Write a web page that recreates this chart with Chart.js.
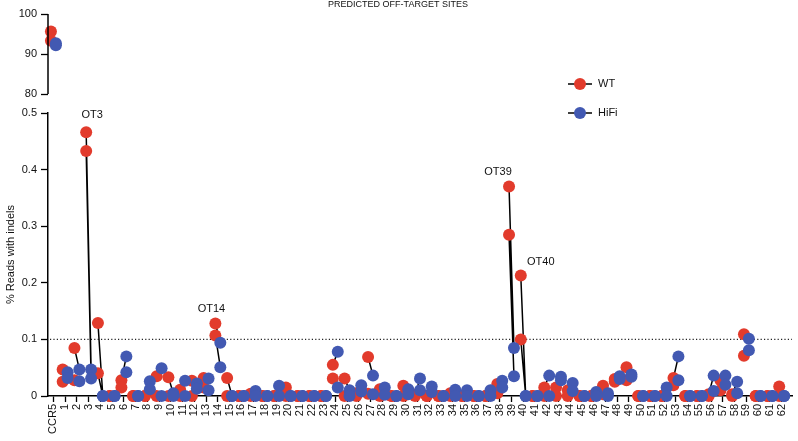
<!DOCTYPE html>
<html>
<head>
<meta charset="utf-8">
<script src="https://cdn.jsdelivr.net/npm/chart.js@4.4.1/dist/chart.umd.min.js"></script>
<style>
  html, body { margin: 0; padding: 0; background: #fff; }
  #wrap { width: 798px; height: 441px; }
</style>
</head>
<body>
<div id="wrap"><canvas id="chart" width="798" height="441"></canvas></div>
<script>
// off-target sites along the x axis
const sites = ['CCR5',
  '1', '2', '3', '4', '5', '6', '7', '8', '9', '10', '11', '12', '13', '14', '15', '16', '17', '18', '19', '20',
  '21', '22', '23', '24', '25', '26', '27', '28', '29', '30', '31', '32', '33', '34', '35', '36', '37', '38', '39', '40',
  '41', '42', '43', '44', '45', '46', '47', '48', '49', '50', '51', '52', '53', '54', '55', '56', '57', '58', '59', '60',
  '61', '62'];

// % reads with indels, two replicates per enzyme (index 0 = CCR5)
const wtRep1 = [
  95.6, 0.047, 0.085, 0.466, 0.129, 0, 0.028, 0, 0, 0.035,
  0.033, 0.011, 0.027, 0.032, 0.128, 0.032, 0, 0.004, 0, 0,
  0.015, 0, 0, 0, 0.055, 0.031, 0.005, 0.069, 0.012, 0,
  0.018, 0.002, 0, 0, 0.005, 0, 0, 0, 0.021, 0.370,
  0.213, 0, 0.015, 0.015, 0.010, 0, 0, 0.018, 0.025, 0.051,
  0, 0, 0, 0.032, 0, 0, 0.003, 0.028, 0.003, 0.109,
  0, 0, 0.017];
const wtRep2 = [
  93.3, 0.025, 0.028, 0.433, 0.040, 0, 0.015, 0, 0, 0,
  0, 0, 0, 0.015, 0.107, 0, 0, 0, 0, 0,
  0, 0, 0, 0, 0.031, 0, 0, 0.004, 0, 0,
  0, 0, 0, 0, 0, 0, 0, 0, 0.005, 0.285,
  0.100, 0, 0, 0, 0, 0, 0, 0.003, 0.030, 0.028,
  0, 0, 0, 0.019, 0, 0, 0, 0.010, 0, 0.071,
  0, 0, 0];
const hifiRep1 = [
  92.7, 0.042, 0.047, 0.047, 0, 0, 0.070, 0, 0.026, 0.049,
  0.005, 0.027, 0.022, 0.031, 0.094, 0, 0, 0.009, 0, 0.018,
  0, 0, 0, 0, 0.078, 0.010, 0.019, 0.036, 0.015, 0,
  0.012, 0.031, 0.017, 0, 0.011, 0.010, 0, 0.010, 0.027, 0.085,
  0, 0, 0.036, 0.034, 0.023, 0, 0.007, 0.005, 0.035, 0.038,
  0, 0, 0.015, 0.070, 0, 0, 0.036, 0.036, 0.025, 0.101,
  0, 0, 0];
const hifiRep2 = [
  92.2, 0.032, 0.026, 0.031, 0, 0, 0.042, 0, 0.012, 0,
  0, 0, 0.013, 0.010, 0.051, 0, 0, 0, 0, 0,
  0, 0, 0, 0, 0.015, 0, 0.008, 0.003, 0.002, 0,
  0.003, 0.010, 0.007, 0, 0, 0, 0, 0, 0.015, 0.035,
  0, 0, 0, 0.028, 0.009, 0, 0, 0, 0.030, 0.034,
  0, 0, 0, 0.028, 0, 0, 0.009, 0.020, 0.005, 0.081,
  0, 0, 0];

const upperTicks = [80, 90, 100];
const lowerTicks = [0, 0.1, 0.2, 0.3, 0.4, 0.5];
const threshold = 0.1;
const labelled = [
  { site: 3, text: 'OT3', dx: 6, dy: -17 },
  { site: 14, text: 'OT14', dx: -4, dy: -15 },
  { site: 39, text: 'OT39', dx: -11, dy: -15 },
  { site: 40, text: 'OT40', dx: 20, dy: -13 }
];

const RED = '#e23b2c';
const BLUE = '#4259b2';
const WT_X = -0.21, HIFI_X = 0.21;
const SPLIT = 1; // values above go in the upper panel
const FONT = "'Liberation Sans', Arial, sans-serif";

function dots(reps, shift, upper) {
  const out = [];
  reps.forEach(r => r.forEach((v, i) => {
    if ((v > SPLIT) === upper) out.push({ x: i + shift, y: v });
  }));
  return out;
}
function links(upper) {
  const out = [];
  [[wtRep1, hifiRep1], [wtRep2, hifiRep2]].forEach(([w, h]) => {
    w.forEach((v, i) => {
      if ((v > SPLIT) !== upper) return;
      out.push({ x: i + WT_X, y: v }, { x: i + HIFI_X, y: h[i] }, { x: i, y: null });
    });
  });
  return out;
}

const pointStyle = (c) => ({
  pointRadius: 6, pointHoverRadius: 6, pointBackgroundColor: c,
  pointBorderWidth: 0, backgroundColor: c, borderColor: c, clip: false
});

const overlay = {
  id: 'overlay',
  beforeDatasetsDraw(chart) {
    const { ctx, chartArea, scales } = chart;
    const y = scales.y.getPixelForValue(threshold);
    ctx.save();
    ctx.strokeStyle = '#222';
    ctx.lineWidth = 1.2;
    ctx.setLineDash([1.2, 2.2]);
    ctx.beginPath();
    ctx.moveTo(chartArea.left + 2, y);
    ctx.lineTo(chartArea.right, y);
    ctx.stroke();
    ctx.restore();
  },
  afterDraw(chart) {
    const { ctx, chartArea, scales } = chart;
    ctx.save();
    // axis line of the upper panel
    ctx.strokeStyle = '#000';
    ctx.lineWidth = 1.5;
    ctx.beginPath();
    ctx.moveTo(chartArea.left, scales.yTop.getPixelForValue(100));
    ctx.lineTo(chartArea.left, scales.yTop.getPixelForValue(80));
    ctx.stroke();

    // title
    ctx.fillStyle = '#111';
    ctx.font = '9px ' + FONT;
    ctx.textAlign = 'center';
    ctx.textBaseline = 'middle';
    ctx.fillText('PREDICTED OFF-TARGET SITES', 398, 5);

    // site labels
    ctx.font = '11px ' + FONT;
    labelled.forEach(a => {
      const px = scales.x.getPixelForValue(a.site + WT_X);
      const py = scales.y.getPixelForValue(wtRep1[a.site]);
      ctx.fillText(a.text, px + a.dx, py + a.dy);
    });

    // legend
    [['WT', RED, 84], ['HiFi', BLUE, 113]].forEach(([t, c, ly]) => {
      ctx.strokeStyle = '#000';
      ctx.lineWidth = 1.5;
      ctx.beginPath();
      ctx.moveTo(568, ly);
      ctx.lineTo(592, ly);
      ctx.stroke();
      ctx.fillStyle = c;
      ctx.beginPath();
      ctx.arc(580, ly, 6, 0, Math.PI * 2);
      ctx.fill();
      ctx.fillStyle = '#111';
      ctx.textAlign = 'left';
      ctx.fillText(t, 598, ly);
    });
    ctx.restore();
  }
};

new Chart(document.getElementById('chart'), {
  type: 'scatter',
  data: {
    datasets: [
      { type: 'line', data: links(false), yAxisID: 'y', borderColor: '#000', borderWidth: 1.5,
        pointRadius: 0, spanGaps: false, order: 3, clip: false },
      { type: 'line', data: links(true), yAxisID: 'yTop', borderColor: '#000', borderWidth: 1.5,
        pointRadius: 0, spanGaps: false, order: 3, clip: false },
      { label: 'WT', data: dots([wtRep1, wtRep2], WT_X, false), yAxisID: 'y', order: 2, ...pointStyle(RED) },
      { label: 'WT', data: dots([wtRep1, wtRep2], WT_X, true), yAxisID: 'yTop', order: 2, ...pointStyle(RED) },
      { label: 'HiFi', data: dots([hifiRep1, hifiRep2], HIFI_X, false), yAxisID: 'y', order: 1, ...pointStyle(BLUE) },
      { label: 'HiFi', data: dots([hifiRep1, hifiRep2], HIFI_X, true), yAxisID: 'yTop', order: 1, ...pointStyle(BLUE) }
    ]
  },
  options: {
    responsive: false,
    animation: false,
    events: [],
    layout: { padding: { top: 14, right: 1, bottom: 0, left: 0 } },
    plugins: { legend: { display: false }, tooltip: { enabled: false } },
    scales: {
      x: {
        type: 'linear',
        min: -0.46,
        max: 62.88,
        afterBuildTicks: (s) => { s.ticks = sites.map((_, i) => ({ value: i })); },
        afterFit: (s) => { s.height = 45; },
        ticks: {
          callback: (v) => sites[v],
          autoSkip: false, minRotation: 90, maxRotation: 90, padding: 2,
          color: '#111', font: { family: FONT, size: 11 }
        },
        grid: { drawOnChartArea: false, tickLength: 6, color: '#000', tickWidth: 1.3 },
        border: { display: true, color: '#000', width: 1.5 }
      },
      y: {
        type: 'linear',
        position: 'left',
        stack: 'left',
        stackWeight: 283,
        min: 0,
        max: 0.5,
        afterBuildTicks: (s) => { s.ticks = lowerTicks.map(v => ({ value: v })); },
        afterFit: (s) => { s.width = 48; },
        ticks: { padding: 4, color: '#111', font: { family: FONT, size: 11 } },
        grid: { drawOnChartArea: false, tickLength: 7, color: '#000', tickWidth: 1.3 },
        border: { display: true, color: '#000', width: 1.5 },
        title: { display: true, text: '% Reads with indels', color: '#111', font: { family: FONT, size: 11 } }
      },
      yTop: {
        type: 'linear',
        position: 'left',
        stack: 'left',
        stackWeight: 99,
        min: 75.25,
        max: 100,
        afterBuildTicks: (s) => { s.ticks = upperTicks.map(v => ({ value: v })); },
        afterFit: (s) => { s.width = 48; },
        ticks: { padding: 4, color: '#111', font: { family: FONT, size: 11 } },
        grid: { drawOnChartArea: false, tickLength: 7, color: '#000', tickWidth: 1.3 },
        border: { display: false }
      }
    }
  },
  plugins: [overlay]
});
</script>
</body>
</html>
